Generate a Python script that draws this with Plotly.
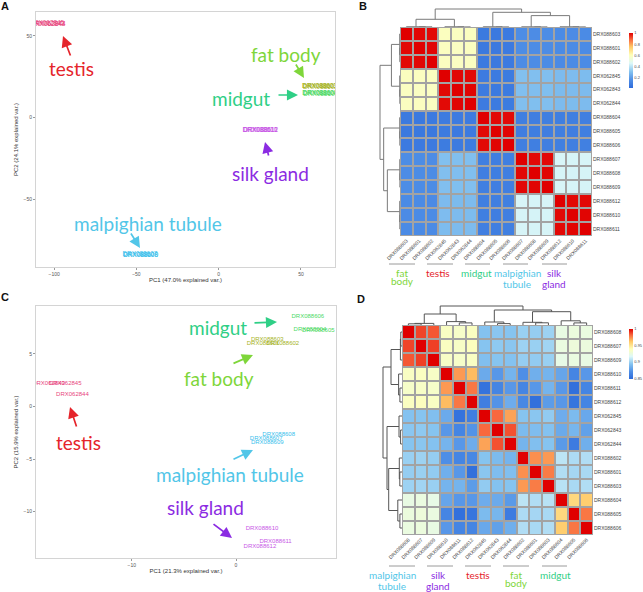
import plotly.graph_objects as go

W, H = 643, 592
def fx(p): return p / W
def fy(p): return 1 - p / H

SMALL = "Liberation Sans, Arial, sans-serif"
BIG = "Lato, Open Sans, sans-serif"

# ---------------- Panel A : PCA (all genes) ----------------
a_labels = ["DRX062845", "DRX062843", "DRX062844",
            "DRX088603", "DRX088601", "DRX088602",
            "DRX088604", "DRX088605", "DRX088606",
            "DRX088610", "DRX088611", "DRX088612",
            "DRX088607", "DRX088608", "DRX088609"]
a_groups = ["testis", "testis", "testis",
            "fat body", "fat body", "fat body",
            "midgut", "midgut", "midgut",
            "silk gland", "silk gland", "silk gland",
            "malpighian tubule", "malpighian tubule", "malpighian tubule"]
a_pc1 = [-104.5, -104.0, -103.6, 61.3, 61.6, 61.9, 61.4, 61.7, 62.0,
         25.0, 25.3, 25.6, -47.9, -47.6, -47.3]
a_pc2 = [57.5, 57.3, 57.1, 19.1, 18.9, 18.7, 14.8, 14.6, 14.4,
         -7.7, -7.9, -8.1, -83.9, -84.1, -84.3]
a_xticks = [-100, -50, 0, 50]
a_yticks = [-50, 0, 50]

# ---------------- Panel C : PCA (subset) ----------------
c_labels = ["DRX062845", "DRX062843", "DRX062844",
            "DRX088603", "DRX088601", "DRX088602",
            "DRX088604", "DRX088605", "DRX088606",
            "DRX088610", "DRX088611", "DRX088612",
            "DRX088607", "DRX088608", "DRX088609"]
c_groups = a_groups
c_pc1 = [-16.4, -18.0, -15.7, 3.0, 2.6, 4.5, 7.1, 7.9, 6.9,
         2.5, 3.8, 2.3, 2.9, 4.1, 3.0]
c_pc2 = [2.18, 2.20, 1.14, 6.36, 5.95, 5.95, 7.30, 7.25, 8.54,
         -11.6, -12.8, -13.3, -3.06, -2.66, -3.42]
c_xticks = [-10, 0]
c_yticks = [-10, -5, 0, 5]

label_colors = {"testis": "#E8457D", "fat body": "#A6B31E", "midgut": "#4CD964",
                "silk gland": "#C857E6", "malpighian tubule": "#38C0EC"}
tissue_colors = {"testis": "#E5242B", "fat body": "#7ED63A", "midgut": "#2FCF86",
                 "silk gland": "#8B2BE2", "malpighian tubule": "#52C6E8"}

# ---------------- Panel B : correlation heatmap ----------------
b_labels = ["DRX088603", "DRX088601", "DRX088602", "DRX062845", "DRX062843", "DRX062844",
            "DRX088604", "DRX088605", "DRX088606", "DRX088607", "DRX088608", "DRX088609",
            "DRX088612", "DRX088610", "DRX088611"]
b_corr = [
    [1.000, 0.992, 0.990, 0.592, 0.588, 0.590, 0.080, 0.078, 0.082, 0.158, 0.156, 0.157, 0.150, 0.152, 0.151],
    [0.992, 1.000, 0.993, 0.590, 0.586, 0.589, 0.079, 0.077, 0.081, 0.157, 0.155, 0.156, 0.149, 0.151, 0.150],
    [0.990, 0.993, 1.000, 0.589, 0.585, 0.588, 0.081, 0.079, 0.083, 0.156, 0.154, 0.155, 0.148, 0.150, 0.149],
    [0.592, 0.590, 0.589, 1.000, 0.991, 0.989, 0.086, 0.084, 0.088, 0.302, 0.300, 0.301, 0.290, 0.292, 0.291],
    [0.588, 0.586, 0.585, 0.991, 1.000, 0.994, 0.085, 0.083, 0.087, 0.300, 0.298, 0.299, 0.288, 0.290, 0.289],
    [0.590, 0.589, 0.588, 0.989, 0.994, 1.000, 0.086, 0.084, 0.088, 0.301, 0.299, 0.300, 0.289, 0.291, 0.290],
    [0.080, 0.079, 0.081, 0.086, 0.085, 0.086, 1.000, 0.990, 0.989, 0.100, 0.099, 0.101, 0.102, 0.101, 0.103],
    [0.078, 0.077, 0.079, 0.084, 0.083, 0.084, 0.990, 1.000, 0.994, 0.098, 0.097, 0.099, 0.100, 0.099, 0.101],
    [0.082, 0.081, 0.083, 0.088, 0.087, 0.088, 0.989, 0.994, 1.000, 0.102, 0.101, 0.103, 0.104, 0.103, 0.105],
    [0.158, 0.157, 0.156, 0.302, 0.300, 0.301, 0.100, 0.098, 0.102, 1.000, 0.990, 0.991, 0.452, 0.450, 0.451],
    [0.156, 0.155, 0.154, 0.300, 0.298, 0.299, 0.099, 0.097, 0.101, 0.990, 1.000, 0.995, 0.450, 0.448, 0.449],
    [0.157, 0.156, 0.155, 0.301, 0.299, 0.300, 0.101, 0.099, 0.103, 0.991, 0.995, 1.000, 0.451, 0.449, 0.450],
    [0.150, 0.149, 0.148, 0.290, 0.288, 0.289, 0.102, 0.100, 0.104, 0.452, 0.450, 0.451, 1.000, 0.990, 0.991],
    [0.152, 0.151, 0.150, 0.292, 0.290, 0.291, 0.101, 0.099, 0.103, 0.450, 0.448, 0.449, 0.990, 1.000, 0.994],
    [0.151, 0.150, 0.149, 0.291, 0.289, 0.290, 0.103, 0.101, 0.105, 0.451, 0.449, 0.450, 0.991, 0.994, 1.000],
]
b_ticks = [0.2, 0.4, 0.6, 0.8, 1]
b_tick_text = ["0.2", "0.4", "0.6", "0.8", "1"]
# dendrogram merges (node ids: leaves 0-14, new nodes from 15)
b_merge_left = [1, 0, 4, 3, 7, 6, 10, 9, 13, 12, 16, 22, 20, 25]
b_merge_right = [2, 15, 5, 17, 8, 19, 11, 21, 14, 23, 18, 24, 26, 27]
b_merge_height = [0.010, 0.015, 0.008, 0.014, 0.008, 0.014, 0.007, 0.012, 0.008, 0.014,
                  0.42, 0.62, 0.80, 0.98]
b_groups = ["fat\nbody", "testis", "midgut", "malpighian\ntubule", "silk\ngland"]
b_group_keys = ["fat body", "testis", "midgut", "malpighian tubule", "silk gland"]

# ---------------- Panel D : correlation heatmap ----------------
d_labels = ["DRX088608", "DRX088607", "DRX088609", "DRX088610", "DRX088611", "DRX088612",
            "DRX062845", "DRX062843", "DRX062844", "DRX088602", "DRX088601", "DRX088603",
            "DRX088604", "DRX088605", "DRX088606"]
d_corr = [
    [1.000, 0.988, 0.985, 0.936, 0.934, 0.937, 0.894, 0.896, 0.895, 0.900, 0.899, 0.901, 0.925, 0.927, 0.926],
    [0.988, 1.000, 0.989, 0.937, 0.935, 0.938, 0.895, 0.897, 0.896, 0.901, 0.900, 0.902, 0.926, 0.928, 0.927],
    [0.985, 0.989, 1.000, 0.935, 0.934, 0.936, 0.893, 0.895, 0.894, 0.899, 0.898, 0.900, 0.924, 0.926, 0.925],
    [0.936, 0.937, 0.935, 1.000, 0.972, 0.965, 0.884, 0.876, 0.888, 0.872, 0.886, 0.888, 0.882, 0.866, 0.876],
    [0.934, 0.935, 0.934, 0.972, 1.000, 0.979, 0.855, 0.866, 0.876, 0.866, 0.876, 0.888, 0.876, 0.853, 0.866],
    [0.937, 0.938, 0.936, 0.965, 0.979, 1.000, 0.862, 0.874, 0.885, 0.868, 0.853, 0.878, 0.876, 0.856, 0.866],
    [0.894, 0.895, 0.893, 0.884, 0.855, 0.862, 1.000, 0.982, 0.970, 0.895, 0.896, 0.898, 0.885, 0.891, 0.883],
    [0.896, 0.897, 0.895, 0.876, 0.866, 0.874, 0.982, 1.000, 0.986, 0.891, 0.892, 0.894, 0.884, 0.889, 0.880],
    [0.895, 0.896, 0.894, 0.888, 0.876, 0.885, 0.970, 0.986, 1.000, 0.888, 0.893, 0.895, 0.877, 0.860, 0.886],
    [0.900, 0.901, 0.899, 0.872, 0.866, 0.868, 0.895, 0.891, 0.888, 1.000, 0.974, 0.972, 0.909, 0.905, 0.906],
    [0.899, 0.900, 0.898, 0.886, 0.876, 0.853, 0.896, 0.892, 0.893, 0.974, 1.000, 0.978, 0.906, 0.903, 0.904],
    [0.901, 0.902, 0.900, 0.888, 0.888, 0.878, 0.898, 0.894, 0.895, 0.972, 0.978, 1.000, 0.908, 0.904, 0.906],
    [0.925, 0.926, 0.924, 0.882, 0.876, 0.876, 0.885, 0.884, 0.877, 0.909, 0.906, 0.908, 1.000, 0.956, 0.960],
    [0.927, 0.928, 0.926, 0.866, 0.853, 0.856, 0.891, 0.889, 0.860, 0.905, 0.903, 0.904, 0.956, 1.000, 0.979],
    [0.926, 0.927, 0.925, 0.876, 0.866, 0.866, 0.883, 0.880, 0.886, 0.906, 0.904, 0.906, 0.960, 0.979, 1.000],
]
d_ticks = [0.85, 0.9, 0.95, 1]
d_tick_text = ["0.85", "0.9", "0.95", "1"]
d_merge_left = [0, 15, 4, 3, 7, 6, 10, 9, 13, 12, 16, 22, 20, 25]
d_merge_right = [1, 2, 5, 17, 8, 19, 11, 21, 14, 23, 18, 24, 26, 27]
d_merge_height = [0.012, 0.016, 0.021, 0.034, 0.014, 0.030, 0.022, 0.027, 0.021, 0.042,
                  0.11, 0.133, 0.15, 0.19]
d_groups = ["malpighian\ntubule", "silk\ngland", "testis", "fat\nbody", "midgut"]
d_group_keys = ["malpighian tubule", "silk gland", "testis", "fat body", "midgut"]

CS = [[0.0, "#2E6BDB"], [0.15, "#4F8FE6"], [0.3, "#86C4F0"], [0.45, "#DDF8F8"],
      [0.6, "#FFFFB8"], [0.75, "#FFC866"], [0.88, "#F8683E"], [1.0, "#E00000"]]


def dendro_xy(left, right, height, n):
    pos = {i: float(i) for i in range(n)}
    hgt = {i: 0.0 for i in range(n)}
    xs, ys = [], []
    for k, (l, r, h) in enumerate(zip(left, right, height)):
        node = n + k
        xl, xr = pos[l], pos[r]
        xs += [xl, xl, xr, xr, None]
        ys += [hgt[l], h, h, hgt[r], None]
        pos[node] = (xl + xr) / 2
        hgt[node] = h
    return xs, ys


fig = go.Figure()

# PCA label traces
for labels, groups, xs, ys, xa, ya, fs in [
        (a_labels, a_groups, a_pc1, a_pc2, "x", "y", 6.4),
        (c_labels, c_groups, c_pc1, c_pc2, "x3", "y3", 6.0)]:
    for g in label_colors:
        idx = [i for i, gg in enumerate(groups) if gg == g]
        fig.add_trace(go.Scatter(
            x=[xs[i] for i in idx], y=[ys[i] for i in idx],
            text=[labels[i] for i in idx], mode="text",
            textposition="middle center",
            textfont=dict(size=fs, color=label_colors[g], family=SMALL),
            xaxis=xa, yaxis=ya, showlegend=False, hoverinfo="skip",
            cliponaxis=True))

# Heatmaps
fig.add_trace(go.Heatmap(
    z=b_corr, x=list(range(15)), y=list(range(15)), colorscale=CS,
    zmin=0.02, zmax=1.0, xgap=2, ygap=2, xaxis="x2", yaxis="y2",
    hoverinfo="skip",
    colorbar=dict(x=fx(629), xanchor="left", y=fy(60.5), yanchor="middle",
                  len=55, lenmode="pixels", thickness=4, thicknessmode="pixels",
                  outlinewidth=0, tickvals=b_ticks, ticktext=b_tick_text, ticks="",
                  tickfont=dict(size=4, color="#444", family=SMALL), xpad=0, ypad=0)))
fig.add_trace(go.Heatmap(
    z=d_corr, x=list(range(15)), y=list(range(15)), colorscale=CS,
    zmin=0.85, zmax=1.0, xgap=2, ygap=2, xaxis="x4", yaxis="y4",
    hoverinfo="skip",
    colorbar=dict(x=fx(629), xanchor="left", y=fy(353.5), yanchor="middle",
                  len=50, lenmode="pixels", thickness=4, thicknessmode="pixels",
                  outlinewidth=0, tickvals=d_ticks, ticktext=d_tick_text, ticks="",
                  tickfont=dict(size=4, color="#444", family=SMALL), xpad=0, ypad=0)))

# Dendrograms
bx, by = dendro_xy(b_merge_left, b_merge_right, b_merge_height, 15)
dx, dy = dendro_xy(d_merge_left, d_merge_right, d_merge_height, 15)
for xs, ys, xa, ya, col in [(bx, by, "x5", "y5", "#7A7A7A"), (by, bx, "x6", "y6", "#7A7A7A"),
                            (dx, dy, "x7", "y7", "#555555"), (dy, dx, "x8", "y8", "#555555")]:
    fig.add_trace(go.Scatter(x=xs, y=ys, mode="lines", line=dict(color=col, width=1),
                             xaxis=xa, yaxis=ya, showlegend=False, hoverinfo="skip"))

pca_axis = dict(showgrid=False, zeroline=False, showline=True, mirror=True,
                linecolor="#D4D4D4", linewidth=1, ticks="outside", ticklen=2,
                tickcolor="#9A9A9A", tickfont=dict(size=5, color="#555", family=SMALL),
                automargin=False)
hm_common = dict(showgrid=False, zeroline=False, showline=False, ticks="",
                 tickfont=dict(size=5, color="#444", family=SMALL), automargin=False)
hidden = dict(visible=False, showgrid=False, zeroline=False)

fig.update_layout(
    width=W, height=H, margin=dict(l=0, r=0, t=0, b=0, pad=0, autoexpand=False),
    paper_bgcolor="white", plot_bgcolor="white", showlegend=False,
    font=dict(family=SMALL),
    xaxis=dict(domain=[fx(36), fx(335)], anchor="y", range=[-111, 70.7],
               tickvals=a_xticks, **pca_axis,
               title=dict(text="PC1 (47.0% explained var.)", standoff=1,
                          font=dict(size=6, color="#333", family=SMALL))),
    yaxis=dict(domain=[fy(267), fy(12)], anchor="x", range=[-91.5, 64.6],
               tickvals=a_yticks, **pca_axis,
               title=dict(text="PC2 (24.1% explained var.)", standoff=4,
                          font=dict(size=6, color="#333", family=SMALL))),
    xaxis3=dict(domain=[fx(36), fx(336)], anchor="y3", range=[-19.2, 9.6],
                tickvals=c_xticks, **pca_axis,
                title=dict(text="PC1 (21.3% explained var.)", standoff=1,
                           font=dict(size=6, color="#333", family=SMALL))),
    yaxis3=dict(domain=[fy(558), fy(306)], anchor="x3", range=[-14.4, 9.55],
                tickvals=c_yticks, **pca_axis,
                title=dict(text="PC2 (15.9% explained var.)", standoff=4,
                           font=dict(size=6, color="#333", family=SMALL))),
    xaxis2=dict(domain=[fx(400), fx(592)], anchor="y2", range=[-0.5, 14.5],
                tickvals=list(range(15)), ticktext=b_labels, tickangle=-45, **hm_common),
    yaxis2=dict(domain=[fy(236), fy(27)], anchor="x2", range=[14.5, -0.5], side="right",
                tickvals=list(range(15)), ticktext=b_labels, **hm_common),
    xaxis4=dict(domain=[fx(402), fx(593)], anchor="y4", range=[-0.5, 14.5],
                tickvals=list(range(15)), ticktext=d_labels, tickangle=-45, **hm_common),
    yaxis4=dict(domain=[fy(535), fy(325)], anchor="x4", range=[14.5, -0.5], side="right",
                tickvals=list(range(15)), ticktext=d_labels, **hm_common),
    xaxis5=dict(domain=[fx(400), fx(592)], anchor="y5", range=[-0.5, 14.5], **hidden),
    yaxis5=dict(domain=[fy(27), fy(7)], anchor="x5", range=[0, 1.089], **hidden),
    xaxis6=dict(domain=[fx(378), fx(400)], anchor="y6", range=[1.078, 0], **hidden),
    yaxis6=dict(domain=[fy(236), fy(27)], anchor="x6", range=[14.5, -0.5], **hidden),
    xaxis7=dict(domain=[fx(402), fx(593)], anchor="y7", range=[-0.5, 14.5], **hidden),
    yaxis7=dict(domain=[fy(325), fy(305)], anchor="x7", range=[0, 0.2], **hidden),
    xaxis8=dict(domain=[fx(381), fx(402)], anchor="y8", range=[0.21, 0], **hidden),
    yaxis8=dict(domain=[fy(535), fy(325)], anchor="x8", range=[14.5, -0.5], **hidden),
)

shapes = []
for xa, ya in [("x2", "y2"), ("x4", "y4")]:
    shapes.append(dict(type="rect", xref=xa + " domain", yref=ya + " domain",
                       x0=0, x1=1, y0=0, y1=1, fillcolor="#A3A3A3",
                       line=dict(width=0), layer="below"))

annotations = []
# panel letters
for letter, px, py in [("A", 5, 6.5), ("B", 363, 6), ("C", 5, 297), ("D", 361, 299)]:
    annotations.append(dict(text="<b>%s</b>" % letter, x=fx(px), y=fy(py), xref="paper",
                            yref="paper", showarrow=False, xanchor="center", yanchor="middle",
                            font=dict(size=11, color="#111", family=SMALL)))

# big tissue labels with arrows (A and C)
big_labels = [
    ("testis", 71, 68, (71, 57), (63, 36)),
    ("fat body", 286, 54, (295, 63), (304, 78)),
    ("midgut", 241, 99, (277, 95), (298, 95)),
    ("silk gland", 270, 173, (269, 157), (265, 142)),
    ("malpighian tubule", 148, 223, (130, 232), (140, 248)),
    ("midgut", 218, 327, (253, 323), (277, 322)),
    ("fat body", 219, 378, (232, 364), (253, 355)),
    ("testis", 78, 442, (77, 428), (70, 407)),
    ("malpighian tubule", 230, 474, (232, 460), (253, 450)),
    ("silk gland", 205, 507, (212, 523), (232, 538)),
]
for name, tx, ty, tail, head in big_labels:
    col = tissue_colors[name]
    annotations.append(dict(text=name, x=fx(tx), y=fy(ty), xref="paper", yref="paper",
                            showarrow=False, xanchor="center", yanchor="middle",
                            font=dict(size=19, color=col, family=BIG)))
    annotations.append(dict(text="", x=fx(head[0]), y=fy(head[1]), xref="paper", yref="paper",
                            ax=tail[0] - head[0], ay=tail[1] - head[1],
                            showarrow=True, arrowhead=2, arrowsize=1.3, arrowwidth=1.7,
                            arrowcolor=col, standoff=0, startstandoff=0))

# group labels under heatmaps
b_line_px = [(389, 415), (427, 453), (465, 490), (503, 528), (542, 567)]
b_text_px = [402, 438, 477, 517, 554]
d_line_px = [(389, 415), (427, 453), (465, 491), (503, 529), (542, 567)]
d_text_px = [392, 438, 478, 516, 555]
for groups, keys, lines, texts, ly, ty in [
        (b_groups, b_group_keys, b_line_px, b_text_px, 264, 273),
        (d_groups, d_group_keys, d_line_px, d_text_px, 566, 575)]:
    for g, k, (l0, l1), tcx in zip(groups, keys, lines, texts):
        shapes.append(dict(type="line", xref="paper", yref="paper", x0=fx(l0), x1=fx(l1),
                           y0=fy(ly), y1=fy(ly), line=dict(color="#9A9A9A", width=1)))
        for j, part in enumerate(g.split("\n")):
            gap = 8 if k == "fat body" else 11
            annotations.append(dict(text=part, x=fx(tcx), y=fy(ty + j * gap), xref="paper",
                                    yref="paper", showarrow=False, xanchor="center",
                                    yanchor="middle",
                                    font=dict(size=10, color=tissue_colors[k], family=BIG)))

fig.update_layout(shapes=shapes, annotations=annotations)
fig.write_html("out.html",
               config={"displayModeBar": False},
               post_script="document.body.style.margin='0px';"
                           "document.body.style.overflow='hidden';")
